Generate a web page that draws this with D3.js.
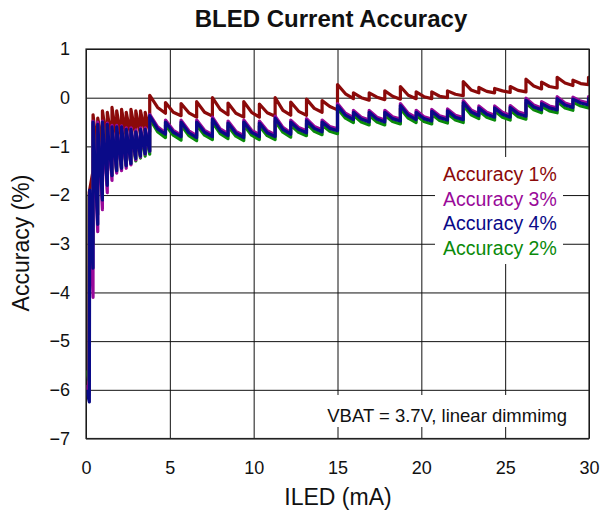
<!DOCTYPE html>
<html>
<head>
<meta charset="utf-8">
<script src="https://cdn.jsdelivr.net/npm/d3@7"></script>
<style>
  body { margin: 0; background: #fff; }
  text { font-family: "Liberation Sans", Arial, Helvetica, sans-serif; }
</style>
</head>
<body>
<div id="chart"></div>
<script>
// SVG setup
let svgWidth = 601;
let svgHeight = 520;

let margin = { top: 49, right: 12, bottom: 81.5, left: 86 };

let width = svgWidth - margin.left - margin.right;
let height = svgHeight - margin.top - margin.bottom;

// Tooth start positions along ILED (mA); each tooth ends where the next starts
let teethX = [0.42, 0.70, 0.98, 1.27, 1.55, 1.83, 2.12, 2.40, 2.68, 2.97, 3.25, 3.53,
  3.80, 4.74, 5.67, 6.60, 7.54, 8.47, 9.41, 10.34, 11.28, 12.21, 13.15, 14.08,
  15.00, 15.95, 16.89, 17.82, 18.75, 19.69, 20.62, 21.56, 22.50, 23.43, 24.37,
  25.30, 26.24, 27.17, 28.10, 29.04, 29.97];
let lastX = 30;
let firstHighTooth = 12; // teeth from 3.8 mA on also carry a mid-tooth value
let midFrac = 0.5;

// Accuracy 1% (red)
let acc1Start = [[0.03, -6.1], [0.17, -6.0], [0.19, -1.95], [0.42, -1.5]];
let acc1Peak = [-0.35, -0.42, -0.27, -0.3, -0.2, -0.27, -0.24, -0.3, -0.24, -0.27, -0.27, -0.3,
  0.05, -0.1, -0.12, -0.08, 0.0, -0.11, -0.08, -0.13, 0.0, -0.09, -0.03, -0.06,
  0.27, 0.1, 0.1, 0.14, 0.23, 0.12, 0.12, 0.14, 0.33, 0.21, 0.19, 0.23, 0.38, 0.32, 0.42, 0.36, 0.42];
let acc1Mid = [-0.2, -0.3, -0.31, -0.3, -0.24, -0.32, -0.3, -0.31, -0.26, -0.28, -0.22, -0.18,
  0.08, 0.0, 0.01, 0.03, 0.05, 0.02, 0.03, 0.07, 0.16, 0.13, 0.14, 0.15, 0.24, 0.23, 0.3, 0.29, 0.39];
let acc1Trough = [-1.2, -1.0, -0.95, -0.9, -0.85, -0.85, -0.8, -0.8, -0.78, -0.75, -0.72, -0.7,
  -0.32, -0.37, -0.4, -0.38, -0.35, -0.4, -0.4, -0.38, -0.36, -0.36, -0.3, -0.25,
  -0.02, -0.05, -0.04, -0.03, -0.02, -0.02, 0.0, 0.04, 0.1, 0.1, 0.11, 0.12, 0.18, 0.2, 0.25, 0.27, 0.38];

// Accuracy 3% (purple)
let acc3Start = [[0.02, -5.9], [0.18, -6.1], [0.2, -2.0], [0.42, -4.1]];
let acc3Peak = [-0.48, -0.5, -0.48, -0.52, -0.57, -0.57, -0.58, -0.62, -0.62, -0.66, -0.62, -0.62,
  -0.34, -0.46, -0.46, -0.46, -0.4, -0.48, -0.46, -0.48, -0.38, -0.46, -0.43, -0.46,
  -0.12, -0.26, -0.26, -0.26, -0.12, -0.26, -0.24, -0.23, -0.06, -0.17, -0.17, -0.16, -0.01, -0.08, 0.02, 0.01, 0.02];
let acc3Mid = [-0.6, -0.67, -0.68, -0.67, -0.64, -0.69, -0.67, -0.68, -0.61, -0.61, -0.59, -0.59,
  -0.32, -0.4, -0.4, -0.39, -0.32, -0.39, -0.37, -0.36, -0.25, -0.3, -0.3, -0.29, -0.15, -0.17, -0.11, -0.07, -0.02];
let acc3Trough = [-2.75, -2.3, -1.95, -1.7, -1.55, -1.5, -1.45, -1.38, -1.28, -1.22, -1.16, -1.1,
  -0.72, -0.77, -0.78, -0.76, -0.74, -0.78, -0.76, -0.76, -0.72, -0.68, -0.66, -0.64,
  -0.41, -0.46, -0.46, -0.44, -0.41, -0.44, -0.42, -0.41, -0.33, -0.36, -0.36, -0.34, -0.21, -0.21, -0.16, -0.11, -0.05];

// Accuracy 4% (blue)
let acc4Start = [[0.03, -6.0], [0.2, -6.25], [0.22, -1.9], [0.42, -3.5]];
let acc4Peak = [-0.5, -0.55, -0.5, -0.55, -0.6, -0.6, -0.6, -0.65, -0.65, -0.7, -0.65, -0.65,
  -0.37, -0.5, -0.5, -0.5, -0.44, -0.52, -0.5, -0.52, -0.42, -0.5, -0.47, -0.5,
  -0.16, -0.3, -0.3, -0.3, -0.16, -0.3, -0.28, -0.27, -0.1, -0.21, -0.21, -0.2, -0.05, -0.12, -0.02, -0.03, -0.02];
let acc4Mid = [-0.64, -0.71, -0.72, -0.71, -0.68, -0.73, -0.71, -0.72, -0.65, -0.65, -0.63, -0.63,
  -0.36, -0.44, -0.44, -0.43, -0.36, -0.43, -0.41, -0.4, -0.29, -0.34, -0.34, -0.33, -0.19, -0.21, -0.15, -0.11, -0.06];
let acc4Trough = [-2.6, -2.1, -1.8, -1.6, -1.5, -1.45, -1.4, -1.35, -1.25, -1.2, -1.15, -1.1,
  -0.75, -0.8, -0.82, -0.8, -0.78, -0.82, -0.8, -0.8, -0.75, -0.72, -0.7, -0.68,
  -0.45, -0.5, -0.5, -0.48, -0.45, -0.48, -0.46, -0.45, -0.37, -0.4, -0.4, -0.38, -0.25, -0.25, -0.2, -0.15, -0.08];

// Accuracy 2% (green)
let acc2Start = [[0.02, -5.6], [0.17, -5.8], [0.19, -2.0], [0.42, -3.0]];
let acc2Peak = [-0.55, -0.6, -0.56, -0.6, -0.65, -0.66, -0.66, -0.7, -0.7, -0.75, -0.71, -0.71,
  -0.43, -0.56, -0.56, -0.56, -0.5, -0.58, -0.56, -0.58, -0.48, -0.56, -0.53, -0.56,
  -0.22, -0.36, -0.36, -0.36, -0.22, -0.36, -0.34, -0.33, -0.16, -0.27, -0.27, -0.26, -0.11, -0.18, -0.08, -0.09, -0.08];
let acc2Mid = [-0.7, -0.77, -0.78, -0.77, -0.74, -0.79, -0.77, -0.78, -0.71, -0.71, -0.69, -0.69,
  -0.42, -0.5, -0.5, -0.49, -0.42, -0.49, -0.47, -0.46, -0.35, -0.4, -0.4, -0.39, -0.25, -0.27, -0.21, -0.17, -0.12];
let acc2Trough = [-2.4, -2.0, -1.75, -1.6, -1.52, -1.45, -1.4, -1.36, -1.3, -1.24, -1.2, -1.16,
  -0.82, -0.87, -0.88, -0.86, -0.84, -0.88, -0.86, -0.86, -0.81, -0.78, -0.76, -0.74,
  -0.51, -0.56, -0.56, -0.54, -0.51, -0.54, -0.52, -0.51, -0.43, -0.46, -0.46, -0.44, -0.31, -0.31, -0.26, -0.21, -0.14];

let xTicks = [0, 5, 10, 15, 20, 25, 30];
let yTicks = [-7, -6, -5, -4, -3, -2, -1, 0, 1];

// drawing order: red under, blue on top
let series = [
  { name: 'Accuracy 1%', color: '#8b0a0a', start: acc1Start, peak: acc1Peak, mid: acc1Mid, trough: acc1Trough },
  { name: 'Accuracy 2%', color: '#0a8a0a', start: acc2Start, peak: acc2Peak, mid: acc2Mid, trough: acc2Trough },
  { name: 'Accuracy 3%', color: '#990a99', start: acc3Start, peak: acc3Peak, mid: acc3Mid, trough: acc3Trough },
  { name: 'Accuracy 4%', color: '#0a0a88', start: acc4Start, peak: acc4Peak, mid: acc4Mid, trough: acc4Trough }
];
let legendOrder = ['Accuracy 1%', 'Accuracy 3%', 'Accuracy 4%', 'Accuracy 2%'];

// turn peaks/mids/troughs into a sawtooth point list
function buildPoints(s) {
  let pts = s.start.slice();
  teethX.forEach((x, i) => {
    let next = i < teethX.length - 1 ? teethX[i + 1] : lastX;
    pts.push([x, s.peak[i]]);
    if (i >= firstHighTooth) {
      pts.push([x + (next - x) * midFrac, s.mid[i - firstHighTooth]]);
    }
    pts.push([next, s.trough[i]]);
  });
  return pts;
}

let svg = d3.select('#chart').append('svg')
  .attr('width', svgWidth)
  .attr('height', svgHeight);

let chartGroup = svg.append('g')
  .attr('transform', `translate(${margin.left}, ${margin.top})`);

let xScale = d3.scaleLinear().domain([0, 30]).range([0, width]);
let yScale = d3.scaleLinear().domain([-7, 1]).range([height, 0]);

// gridlines + tick labels
let xAxis = chartGroup.append('g')
  .attr('transform', `translate(0, ${height})`)
  .call(d3.axisBottom(xScale).tickValues(xTicks).tickSize(-height).tickPadding(23));
let yAxis = chartGroup.append('g')
  .call(d3.axisLeft(yScale).tickValues(yTicks).tickSize(-width).tickPadding(16).tickFormat(d3.format('d')));

[xAxis, yAxis].forEach(ax => {
  ax.select('.domain').remove();
  ax.selectAll('line').attr('stroke', '#111').attr('stroke-width', 1);
  ax.selectAll('text').attr('font-size', '18px').attr('fill', '#111')
    .style('font-family', '"Liberation Sans", Arial, sans-serif');
});

chartGroup.append('clipPath').attr('id', 'clip')
  .append('rect').attr('width', width).attr('height', height);

let line = d3.line()
  .x(d => xScale(d[0]))
  .y(d => yScale(d[1]));

chartGroup.append('g').attr('clip-path', 'url(#clip)')
  .selectAll('path')
  .data(series)
  .enter()
  .append('path')
  .attr('d', d => line(buildPoints(d)))
  .attr('fill', 'none')
  .attr('stroke', d => d.color)
  .attr('stroke-width', 3.2)
  .attr('stroke-linejoin', 'round');

// plot border
chartGroup.append('rect')
  .attr('width', width).attr('height', height)
  .attr('fill', 'none').attr('stroke', '#222').attr('stroke-width', 1.2);

// legend box
chartGroup.append('rect')
  .attr('x', 435 - margin.left).attr('y', 157 - margin.top)
  .attr('width', 128).attr('height', 107)
  .attr('fill', '#fff');

chartGroup.selectAll('.legendText')
  .data(legendOrder)
  .enter()
  .append('text')
  .classed('legendText', true)
  .attr('x', 443 - margin.left)
  .attr('y', (d, i) => 181 - margin.top + i * 24.7)
  .attr('font-size', '19.5px')
  .attr('fill', d => series.find(s => s.name === d).color)
  .text(d => d);

// annotation box
chartGroup.append('rect')
  .attr('x', 300 - margin.left).attr('y', 395 - margin.top)
  .attr('width', 288).attr('height', 32)
  .attr('fill', '#fff');
chartGroup.append('text')
  .attr('x', 567 - margin.left)
  .attr('y', 421.5 - margin.top)
  .attr('text-anchor', 'end')
  .attr('font-size', '18.5px')
  .attr('fill', '#111')
  .text('VBAT = 3.7V, linear dimmimg');

// title
svg.append('text')
  .attr('x', 331).attr('y', 27)
  .attr('text-anchor', 'middle')
  .attr('font-size', '24px')
  .attr('font-weight', 'bold')
  .attr('fill', '#111')
  .text('BLED Current Accuracy');

// axis titles
svg.append('text')
  .attr('x', 338).attr('y', 505)
  .attr('text-anchor', 'middle')
  .attr('font-size', '23px')
  .attr('fill', '#111')
  .text('ILED (mA)');

svg.append('text')
  .attr('transform', 'translate(29, 243) rotate(-90)')
  .attr('text-anchor', 'middle')
  .attr('font-size', '23px')
  .attr('fill', '#111')
  .text('Accuracy (%)');
</script>
</body>
</html>
